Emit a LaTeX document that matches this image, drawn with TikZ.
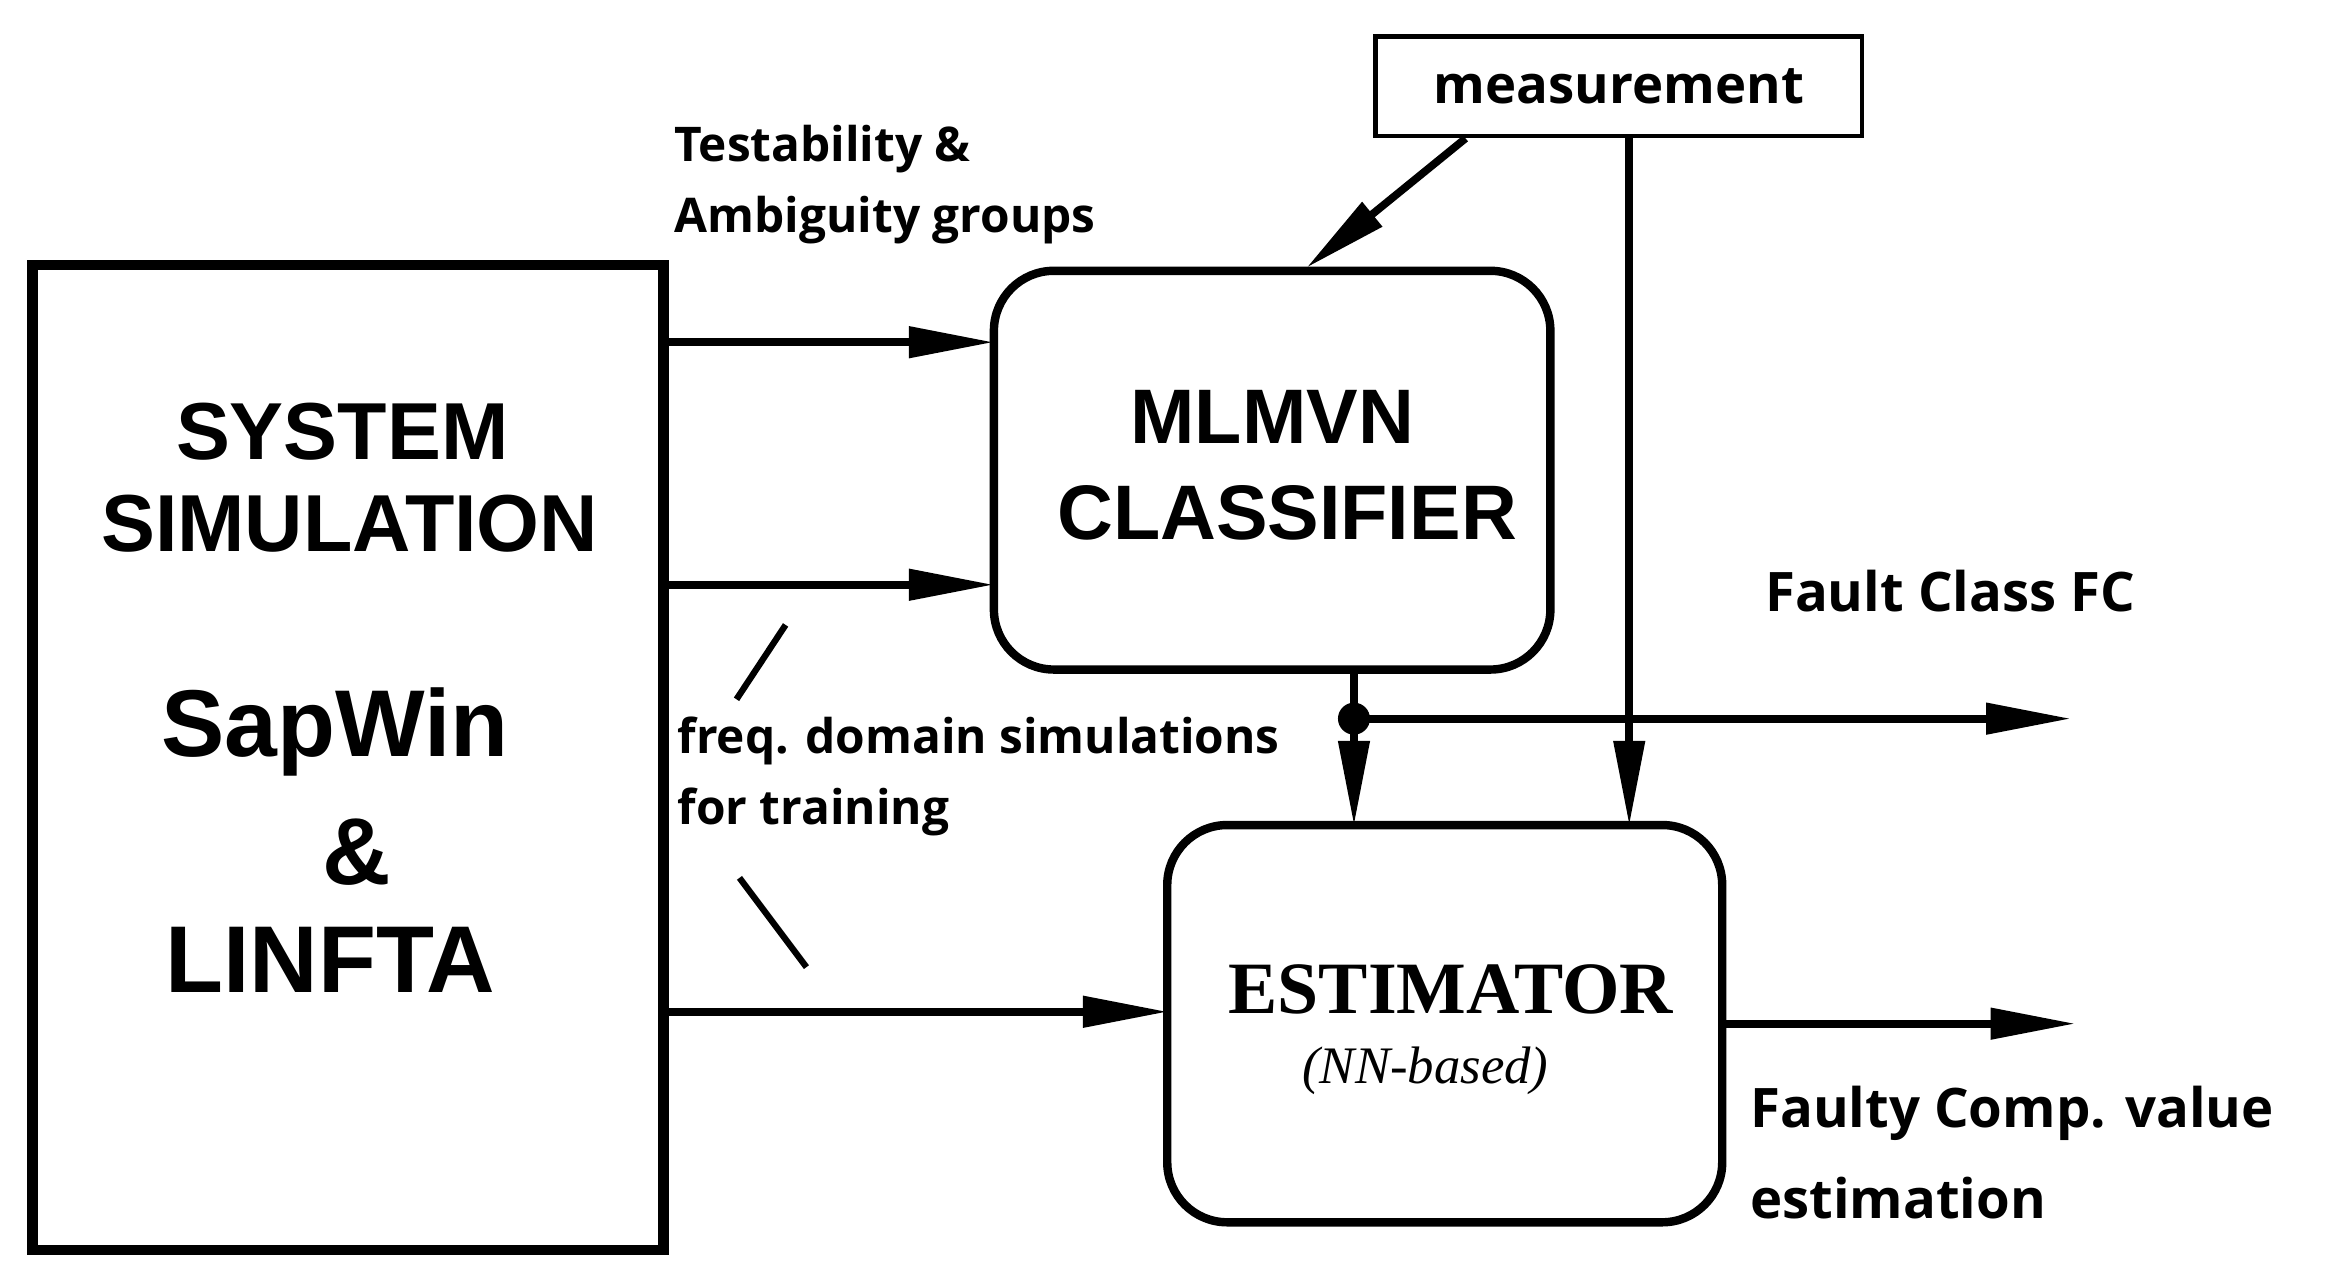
\documentclass[tikz,border=0pt]{standalone}
\usepackage{fontspec}
\setmainfont{Liberation Serif}
\newfontfamily\arialf{Liberation Sans}
\newfontfamily\opens{Open Sans}
\usetikzlibrary{arrows.meta}
\begin{document}
\begin{tikzpicture}[x=0.01488cm,y=-0.01488cm,
  ln/.style={line width=2.2pt},
  arr/.style={ln,-{Triangle[length=0.85cm,width=0.3cm]}},
  big/.style={font=\arialf\bfseries\fontsize{23}{26}\selectfont},
  lab/.style={font=\opens\bfseries\fontsize{13.6}{16}\selectfont,anchor=west},
  rbox/.style={draw,line width=2.4pt,rounded corners=0.6cm}]
\useasboundingbox (0,0) rectangle (1568,865);
\node[draw,line width=3pt,minimum width=424*0.01488cm,minimum height=662*0.01488cm] (sys) at (234,509) {};
\node[big] (t1) at (230,290) {SYSTEM};
\node[big] (t2) at (235,352) {SIMULATION};
\node[big,font=\arialf\bfseries\fontsize{27}{30}\selectfont] (t3) at (225,492) {SapWin};
\node[big,font=\arialf\bfseries\fontsize{27}{30}\selectfont] (t4) at (240,573) {\&};
\node[big,font=\arialf\bfseries\fontsize{27}{30}\selectfont] (t5) at (222,645) {LINFTA};
\node[rbox,minimum width=374*0.01488cm,minimum height=268*0.01488cm] (cls) at (855,316) {};
\node[big,font=\arialf\bfseries\fontsize{22}{26}\selectfont] (c1) at (855,280) {MLMVN};
\node[big,font=\arialf\bfseries\fontsize{22}{26}\selectfont] (c2) at (865,345) {CLASSIFIER};
\node[rbox,minimum width=373*0.01488cm,minimum height=267*0.01488cm] (est) at (971,688) {};
\node[font=\bfseries\fontsize{21}{24}\selectfont] (e1) at (975,665) {ESTIMATOR};
\node[font=\itshape\fontsize{15}{18}\selectfont] (e2) at (958,720) {(NN-based)};
\node[draw,line width=1.2pt,minimum width=327*0.01488cm,minimum height=67*0.01488cm,font=\opens\bfseries\fontsize{15}{18}\selectfont] (meas) at (1088,58) {measurement};
\node[lab] (l1) at (445,100) {Testability \&};
\node[lab] (l2) at (445,148) {Ambiguity groups};
\node[lab] (l3) at (447,498) {freq. domain simulations};
\node[lab] (l4) at (447,546) {for training};
\node[lab,font=\opens\bfseries\fontsize{15.5}{18}\selectfont] (l5) at (1178,397) {Fault Class FC};
\node[lab,font=\opens\bfseries\fontsize{15.5}{18}\selectfont] (l6) at (1168,748) {Faulty Comp. value};
\node[lab,font=\opens\bfseries\fontsize{15.5}{18}\selectfont] (l7) at (1168,805) {estimation};
\coordinate (a1) at (446,230); \coordinate (b1) at (668,230);
\coordinate (a2) at (446,393); \coordinate (b2) at (668,393);
\coordinate (a3) at (446,680); \coordinate (b3) at (785,680);
\draw[arr] (a1) -- (b1);
\draw[arr] (a2) -- (b2);
\draw[arr] (a3) -- (b3);
\coordinate (m1) at (985,93); \coordinate (m2) at (878,180);
\draw[arr] (m1) -- (m2);
\coordinate (m3) at (1095,92); \coordinate (m4) at (1095,555);
\draw[arr] (m3) -- (m4);
\coordinate (c3) at (910,450); \coordinate (dot) at (910,483); \coordinate (c4) at (910,555);
\draw[arr] (c3) -- (c4);
\fill (dot) circle (0.16cm);
\coordinate (fc) at (1392,483);
\draw[arr] (dot) -- (fc);
\coordinate (e3) at (1158,688); \coordinate (e4) at (1395,688);
\draw[arr] (e3) -- (e4);
\coordinate (d1) at (528,420); \coordinate (d2) at (495,470);
\coordinate (d3) at (497,590); \coordinate (d4) at (542,650);
\draw[line width=1.8pt] (d1) -- (d2);
\draw[line width=1.8pt] (d3) -- (d4);
\end{tikzpicture}
\end{document}
